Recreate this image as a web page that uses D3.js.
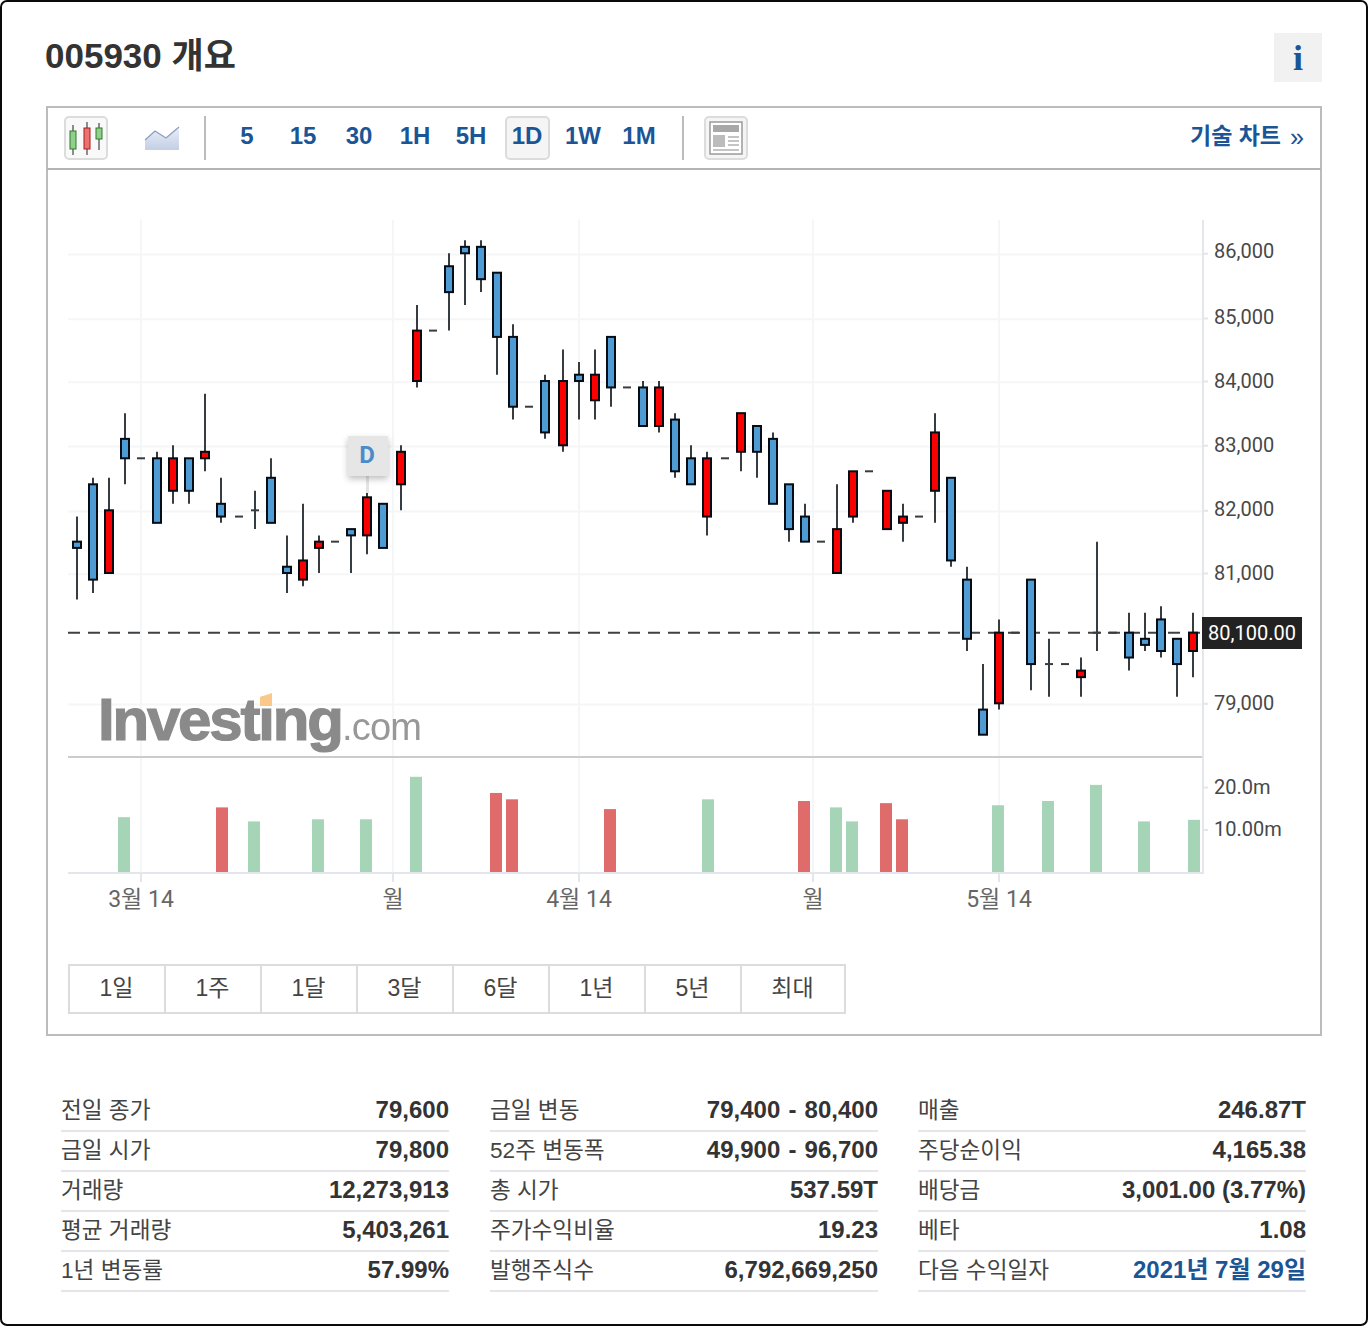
<!DOCTYPE html>
<html lang="ko">
<head>
<meta charset="utf-8">
<title>005930 개요</title>
<script src="https://cdnjs.cloudflare.com/ajax/libs/d3/7.8.5/d3.min.js"></script>
<style>
  html, body { margin: 0; padding: 0; background: #fff; }
  svg { display: block; }
  .ui { font-family: "Liberation Sans", "Noto Sans CJK KR", sans-serif; }
  .chartText { font-family: Roboto, "Noto Sans CJK KR", sans-serif; }
</style>
</head>
<body>
<div id="chart"></div>
<script>
// Daily OHLC prices (KRW), one entry per session slot
const opens  = [81500,82400,81000,83100,82800,82800,82300,82800,82800,82100,81900,82000,82500,81100,80900,81400,81500,81700,81600,82100,82400,84000,84800,85800,86100,86100,85700,84700,83600,84000,83000,84100,83700,84700,83900,83900,83300,83400,82800,81900,82800,82900,83300,83100,82400,81900,81500,81000,81900,82600,81700,81800,81900,82300,82500,80900,78900,79000,80100,80900,79600,79600,79400,80100,80100,80100,80000,80300,80000,79800];
const highs  = [81900,82500,82500,83500,82800,82900,83000,82800,83800,82500,81900,82300,82800,81600,82100,81600,81500,81700,82300,82100,83000,85200,84800,86000,86200,86200,85700,84900,83600,84100,84500,84300,84500,84700,83900,84000,84000,83500,83000,82900,82800,83500,83300,83200,82400,82100,81500,82400,82600,82600,82300,82100,81900,83500,82500,81100,79600,80300,80100,80900,80000,79600,79700,81500,80100,80400,80400,80500,80000,80400];
const lows   = [80600,80700,81000,82400,82800,81800,82100,82100,82600,81800,81900,81700,81800,80700,80800,81000,81500,81000,81300,81400,82000,83900,84800,84800,85200,85400,84100,83400,83600,83100,82900,83400,83400,83600,83900,83300,83200,82500,82400,81600,82800,82600,82500,82100,81500,81500,81500,81000,81800,82600,81700,81500,81900,81800,81100,79800,78500,78900,80100,79200,79100,79600,79100,79800,80100,79500,79800,79700,79100,79400];
const closes = [81400,80900,82000,82800,82800,81800,82800,82300,82900,81900,81900,82000,81800,81000,81200,81500,81500,81600,82200,81400,82900,84800,84800,85400,86000,85600,84700,83600,83600,83200,84000,84000,84100,83900,83900,83300,83900,82600,82400,82800,82800,83500,82900,82100,81700,81500,81500,81700,82600,82600,82300,81900,81900,83200,81200,80000,78500,80100,80100,79600,79600,79600,79500,80100,80100,79700,79900,79800,79600,80100];
const lastPrice = 80100;

// Reported volume (millions of shares) and the session slot of each bar
const volumeSlots  = [3,9,11,15,18,21,26,27,33,39,45,47,48,50,51,57,60,63,66,69];
const volumeValues = [12.9,15.2,11.9,12.4,12.4,22.4,18.6,17.1,14.8,17.1,16.7,15.2,11.9,16.2,12.4,15.7,16.7,20.5,11.9,12.27];
const volumeTones  = ["g","r","g","g","g","g","r","r","r","g","r","g","g","r","r","g","g","g","g","g"];

// Axis ticks and labels
const priceTicks = [79000,81000,82000,83000,84000,85000,86000];
const volumeTicks = [10,20];
const volumeTickLabels = ["10.00m","20.0m"];
const timeTickSlots = [3.97,19.55,31.03,45.5,57];
const timeTickLabels = ["3월 14","월","4월 14","월","5월 14"];

// Page chrome text
const intervalLabels = ["5","15","30","1H","5H","1D","1W","1M"];
const activeInterval = "1D";
const rangeLabels = ["1일","1주","1달","3달","6달","1년","5년","최대"];
const statLabels = [
  ["전일 종가","금일 시가","거래량","평균 거래량","1년 변동률"],
  ["금일 변동","52주 변동폭","총 시가","주가수익비율","발행주식수"],
  ["매출","주당순이익","배당금","베타","다음 수익일자"]
];
const statValues = [
  ["79,600","79,800","12,273,913","5,403,261","57.99%"],
  ["79,400 - 80,400","49,900 - 96,700","537.59T","19.23","6,792,669,250"],
  ["246.87T","4,165.38","3,001.00 (3.77%)","1.08","2021년 7월 29일"]
];

const upColor = "#fa0000", downColor = "#4f9bd4", inkColor = "#050c14", wickColor = "#363c40";
const linkBlue = "#1b5596";

const svg = d3.select("#chart").append("svg").attr("width", 1368).attr("height", 1326);
const defs = svg.append("defs");

// Outer frame
svg.append("rect").attr("x", 1).attr("y", 1).attr("width", 1366).attr("height", 1324)
  .attr("rx", 6).attr("fill", "#fff").attr("stroke", "#0a0a0a").attr("stroke-width", 2);

// Title and info button
svg.append("text").attr("class", "ui").attr("x", 45).attr("y", 68)
  .attr("font-size", 35).attr("font-weight", 700).attr("fill", "#333").text("005930 개요");
svg.append("rect").attr("x", 1274).attr("y", 33).attr("width", 48).attr("height", 49).attr("fill", "#f1f1f1");
svg.append("text").attr("x", 1298).attr("y", 70).attr("text-anchor", "middle")
  .attr("font-family", "Liberation Serif, serif").attr("font-size", 36).attr("font-weight", 700)
  .attr("fill", linkBlue).text("i");

// Chart panel and toolbar
svg.append("rect").attr("x", 47).attr("y", 107).attr("width", 1274).attr("height", 928)
  .attr("fill", "#fff").attr("stroke", "#bcbcbc").attr("stroke-width", 2);
svg.append("line").attr("x1", 47).attr("x2", 1321).attr("y1", 169).attr("y2", 169)
  .attr("stroke", "#b4b4b4").attr("stroke-width", 2);

function toolButton(x, y, w, h, fill) {
  svg.append("rect").attr("x", x).attr("y", y).attr("width", w).attr("height", h).attr("rx", 4)
    .attr("fill", fill).attr("stroke", "#dcdcdc").attr("stroke-width", 2);
}
toolButton(65, 117, 42, 42, "#f9f9f9");
[[73, 125, 155, 131, 149, "#8fd18a", "#2f7a2a"], [87, 122, 155, 128, 149, "#f07070", "#a02020"], [99, 123, 150, 128, 139, "#8fd18a", "#2f7a2a"]]
  .forEach(([x, t, b, y1, y2, fill, line]) => {
    svg.append("line").attr("x1", x).attr("x2", x).attr("y1", t).attr("y2", b).attr("stroke", "#444").attr("stroke-width", 1.2);
    svg.append("rect").attr("x", x - 3).attr("y", y1).attr("width", 6).attr("height", y2 - y1)
      .attr("fill", fill).attr("stroke", line).attr("stroke-width", 1);
  });

// Mountain icon
const iconGrad = defs.append("linearGradient").attr("id", "mountain")
  .attr("x1", 0).attr("x2", 0).attr("y1", 0).attr("y2", 1);
iconGrad.append("stop").attr("offset", "0%").attr("stop-color", "#e9eef8");
iconGrad.append("stop").attr("offset", "100%").attr("stop-color", "#c3cfe6");
svg.append("path").attr("d", "M145 140 L155 131 L166 138 L179 127 L179 150 L145 150 Z").attr("fill", "url(#mountain)");
svg.append("path").attr("d", "M145 140 L155 131 L166 138 L179 127").attr("fill", "none").attr("stroke", "#8e9fc0").attr("stroke-width", 1.3);

svg.selectAll("line.toolSep").data([205, 683]).join("line").attr("class", "toolSep")
  .attr("x1", d => d).attr("x2", d => d).attr("y1", 116).attr("y2", 160)
  .attr("stroke", "#bcbcbc").attr("stroke-width", 2);

const intervalX = d3.scalePoint().domain(intervalLabels).range([247, 639]);
toolButton(intervalX(activeInterval) - 21, 117, 43, 42, "#f5f5f5");
svg.selectAll("text.interval").data(intervalLabels).join("text")
  .attr("class", "interval ui").attr("x", d => intervalX(d)).attr("y", 144)
  .attr("text-anchor", "middle").attr("font-size", 24).attr("font-weight", 700)
  .attr("fill", linkBlue).text(d => d);

// Page layout icon
toolButton(705, 117, 42, 42, "#f5f5f5");
svg.append("rect").attr("x", 710).attr("y", 122).attr("width", 32).attr("height", 32).attr("fill", "#fff").attr("stroke", "#9a9a9a").attr("stroke-width", 1.5);
svg.append("rect").attr("x", 713).attr("y", 125).attr("width", 26).attr("height", 7).attr("fill", "#a8a8a8");
svg.append("rect").attr("x", 713).attr("y", 135).attr("width", 12).attr("height", 12).attr("fill", "#bcbcbc");
[136, 140, 144].forEach(y => svg.append("rect").attr("x", 728).attr("y", y).attr("width", 11).attr("height", 2).attr("fill", "#c4c4c4"));
svg.append("rect").attr("x", 713).attr("y", 149).attr("width", 26).attr("height", 2).attr("fill", "#c4c4c4");

svg.append("text").attr("class", "ui").attr("x", 1190).attr("y", 144)
  .attr("font-size", 23).attr("font-weight", 700).attr("fill", linkBlue).text("기술 차트");
svg.append("text").attr("class", "ui").attr("x", 1290).attr("y", 146)
  .attr("font-size", 25).attr("fill", linkBlue).text("»");

// Scales
const slotStep = d3.scaleLinear().domain([0, 69]).range([0, 558.9]);
const slotX = (i, phase = 1e-6) => 77 + 2 * Math.floor(slotStep(i) + phase);   // marks sit on a stepped pixel grid
const timeAxisX = d3.scaleLinear().domain([0, 69]).range([77, 1193]);
const yPrice = d3.scaleLinear()
  .domain([78500, 79000, 79800, 80100, 81000, 82000, 83000, 84000, 85000, 86000])
  .range([734.7, 703.3, 651, 632.7, 573, 510.3, 445.3, 381, 318, 253.3]);
const gridNudge = 1.3;   // horizontal rules rest slightly below their labels' price
const yVolume = d3.scaleLinear().domain([0, 20]).range([872, 787]);
const plotLeft = 68, plotRight = 1203, plotTop = 220, paneBreak = 757, plotBottom = 873;

// Grid
const grid = svg.append("g").attr("fill", "none").attr("stroke", "#f5f6f7").attr("stroke-width", 2);
grid.selectAll("line.h").data(priceTicks).join("line").attr("class", "h")
  .attr("x1", plotLeft).attr("x2", plotRight)
  .attr("y1", d => yPrice(d) + gridNudge).attr("y2", d => yPrice(d) + gridNudge);
grid.selectAll("line.v").data(timeTickSlots).join("line").attr("class", "v")
  .attr("x1", d => Math.round(timeAxisX(d))).attr("x2", d => Math.round(timeAxisX(d)))
  .attr("y1", plotTop).attr("y2", plotBottom);

// Watermark, slightly soft like the raster logo it stands for
defs.append("filter").attr("id", "soft").append("feGaussianBlur").attr("stdDeviation", 0.5);
const mark = svg.append("g").attr("class", "ui").attr("filter", "url(#soft)");
mark.append("text").attr("x", 98).attr("y", 740).attr("font-size", 60).attr("font-weight", 700)
  .attr("fill", "#8a8a8a").attr("stroke", "#8a8a8a").attr("stroke-width", 1.2)
  .attr("letter-spacing", -2.2).text("Investing");
mark.append("text").attr("x", 342).attr("y", 740).attr("font-size", 38)
  .attr("fill", "#989898").attr("letter-spacing", -0.8).text(".com");
mark.append("path").attr("d", "M260 697 L272 693 L272 706 L260 706 Z").attr("fill", "#fcc88a");

// Pane dividers and right-hand axis rule
svg.append("line").attr("x1", plotLeft).attr("x2", plotRight).attr("y1", paneBreak).attr("y2", paneBreak)
  .attr("stroke", "#cbcbcb").attr("stroke-width", 2);
svg.append("line").attr("x1", plotLeft).attr("x2", plotRight).attr("y1", 873).attr("y2", 873)
  .attr("stroke", "#e3e6ea").attr("stroke-width", 2);
svg.append("line").attr("x1", plotRight).attr("x2", plotRight).attr("y1", plotTop).attr("y2", 874)
  .attr("stroke", "#e3e6ea").attr("stroke-width", 2);

// Price and volume axes
function styleAxis(g, size, color) {
  g.attr("class", "chartText");
  g.select(".domain").remove();
  g.selectAll(".tick line").attr("stroke", "#e3e6ea").attr("stroke-width", 2);
  g.selectAll(".tick text").attr("font-size", size).attr("fill", color);
}
const priceLabelLift = d => d === 86000 ? 2 : (d === 85000 || d === 82000) ? 1 : 0;
svg.append("g").attr("transform", `translate(${plotRight},0)`)
  .call(d3.axisRight(yPrice).tickValues(priceTicks).tickSize(5).tickPadding(6).tickFormat(d3.format(",")))
  .call(styleAxis, 20, "#484848")
  .call(g => g.selectAll(".tick text").attr("dy", "0.3em").attr("y", d => -priceLabelLift(d)));
svg.append("g").attr("transform", `translate(${plotRight},0)`)
  .call(d3.axisRight(yVolume).tickValues(volumeTicks).tickSize(5).tickPadding(6)
    .tickFormat(d => volumeTickLabels[volumeTicks.indexOf(d)]))
  .call(styleAxis, 20, "#484848")
  .call(g => g.selectAll(".tick text").attr("dy", "0.32em"));
svg.append("g").attr("transform", `translate(0,${plotBottom})`)
  .call(d3.axisBottom(timeAxisX).tickValues(timeTickSlots).tickSize(9).tickPadding(9)
    .tickFormat(d => timeTickLabels[timeTickSlots.indexOf(d)]))
  .call(styleAxis, 23, "#666")
  .call(g => g.selectAll(".tick").attr("transform", d => `translate(${Math.round(timeAxisX(d))},0)`));

// Last-price marker
svg.append("line").attr("x1", plotLeft).attr("x2", plotRight)
  .attr("y1", yPrice(lastPrice)).attr("y2", yPrice(lastPrice))
  .attr("stroke", "#3c4144").attr("stroke-width", 2).attr("stroke-dasharray", "12 8");

// Candles
const candles = opens.map((o, i) => ({ i, o, h: highs[i], l: lows[i], c: closes[i] }));
const cg = svg.append("g");
cg.selectAll("line.wick").data(candles.filter(d => d.h > d.l)).join("line").attr("class", "wick")
  .attr("x1", d => slotX(d.i)).attr("x2", d => slotX(d.i))
  .attr("y1", d => yPrice(d.h)).attr("y2", d => yPrice(d.l))
  .attr("stroke", wickColor).attr("stroke-width", 2);
// Flat sessions collapse to a short dash
cg.selectAll("line.flat").data(candles.filter(d => d.o === d.c)).join("line").attr("class", "flat")
  .attr("x1", d => slotX(d.i) - 4).attr("x2", d => slotX(d.i) + 4)
  .attr("y1", d => yPrice(d.o)).attr("y2", d => yPrice(d.o))
  .attr("stroke", wickColor).attr("stroke-width", 2);
cg.selectAll("rect.body").data(candles.filter(d => d.o !== d.c)).join("rect").attr("class", "body")
  .attr("x", d => slotX(d.i) - 4).attr("width", 8)
  .attr("y", d => yPrice(Math.max(d.o, d.c)))
  .attr("height", d => Math.abs(yPrice(d.o) - yPrice(d.c)))
  .attr("fill", d => d.c > d.o ? upColor : downColor)
  .attr("stroke", inkColor).attr("stroke-width", 2);

// Volume bars
const volumeColor = { g: "#a5d4b6", r: "#e06b6b" };
svg.append("g").selectAll("rect").data(volumeSlots).join("rect")
  .attr("x", d => slotX(d, 0.15) - 7).attr("width", 12)
  .attr("y", (d, k) => yVolume(volumeValues[k]))
  .attr("height", (d, k) => yVolume(0) - yVolume(volumeValues[k]))
  .attr("fill", (d, k) => volumeColor[volumeTones[k]]);

// Dividend flag
const flagDefs = defs.append("filter").attr("id", "flagShadow")
  .attr("x", "-30%").attr("y", "-30%").attr("width", "160%").attr("height", "160%");
flagDefs.append("feDropShadow").attr("dx", 0).attr("dy", 3).attr("stdDeviation", 3).attr("flood-color", "#000").attr("flood-opacity", 0.25);
svg.append("rect").attr("x", 366).attr("y", 476).attr("width", 3).attr("height", 17).attr("fill", "#e4e4e4");
svg.append("rect").attr("x", 348).attr("y", 436).attr("width", 40).attr("height", 40)
  .attr("fill", "#e6e6e6").attr("filter", "url(#flagShadow)");
svg.append("text").attr("class", "chartText").attr("x", 367).attr("y", 463).attr("text-anchor", "middle")
  .attr("font-size", 24).attr("font-weight", 700).attr("fill", "#4a8bcb").text("D");

// Last-price tag
svg.append("rect").attr("x", 1202).attr("y", 617).attr("width", 100).attr("height", 32).attr("fill", "#222");
svg.append("text").attr("class", "chartText").attr("x", 1252).attr("y", yPrice(lastPrice) + 7)
  .attr("text-anchor", "middle").attr("font-size", 20).attr("fill", "#fff").text(d3.format(",.2f")(lastPrice));

// Range selector
const rangeEdges = [68, 164, 260, 356, 452, 548, 644, 740, 844];
rangeLabels.forEach((label, k) => {
  svg.append("rect").attr("x", rangeEdges[k] + 1).attr("y", 965)
    .attr("width", rangeEdges[k + 1] - rangeEdges[k]).attr("height", 48)
    .attr("fill", "#fff").attr("stroke", "#dcdcdc").attr("stroke-width", 2);
  svg.append("text").attr("class", "ui").attr("x", (rangeEdges[k] + rangeEdges[k + 1]) / 2 + 0.5).attr("y", 996)
    .attr("text-anchor", "middle").attr("font-size", 23).attr("fill", "#444").text(label);
});

// Key statistics table
const columnEdges = [[61, 449], [490, 878], [918, 1306]];
const rowLine = [1131, 1171, 1211, 1251, 1291];
columnEdges.forEach(([x0, x1], col) => {
  statLabels[col].forEach((label, row) => {
    svg.append("line").attr("x1", x0).attr("x2", x1).attr("y1", rowLine[row]).attr("y2", rowLine[row])
      .attr("stroke", "#e6e6ea").attr("stroke-width", 2);
    svg.append("text").attr("class", "ui").attr("x", x0).attr("y", rowLine[row] - 13)
      .attr("font-size", 22.6).attr("fill", "#444").text(label);
    const isLink = col === 2 && row === 4;
    const value = statValues[col][row];
    svg.append("text").attr("class", "ui").attr("x", x1).attr("y", rowLine[row] - 13)
      .attr("text-anchor", "end").attr("font-size", 24).attr("font-weight", 700)
      .attr("word-spacing", value.includes(" - ") ? 1.5 : 0)
      .attr("fill", isLink ? linkBlue : "#333").text(value);
  });
});
</script>
</body>
</html>
